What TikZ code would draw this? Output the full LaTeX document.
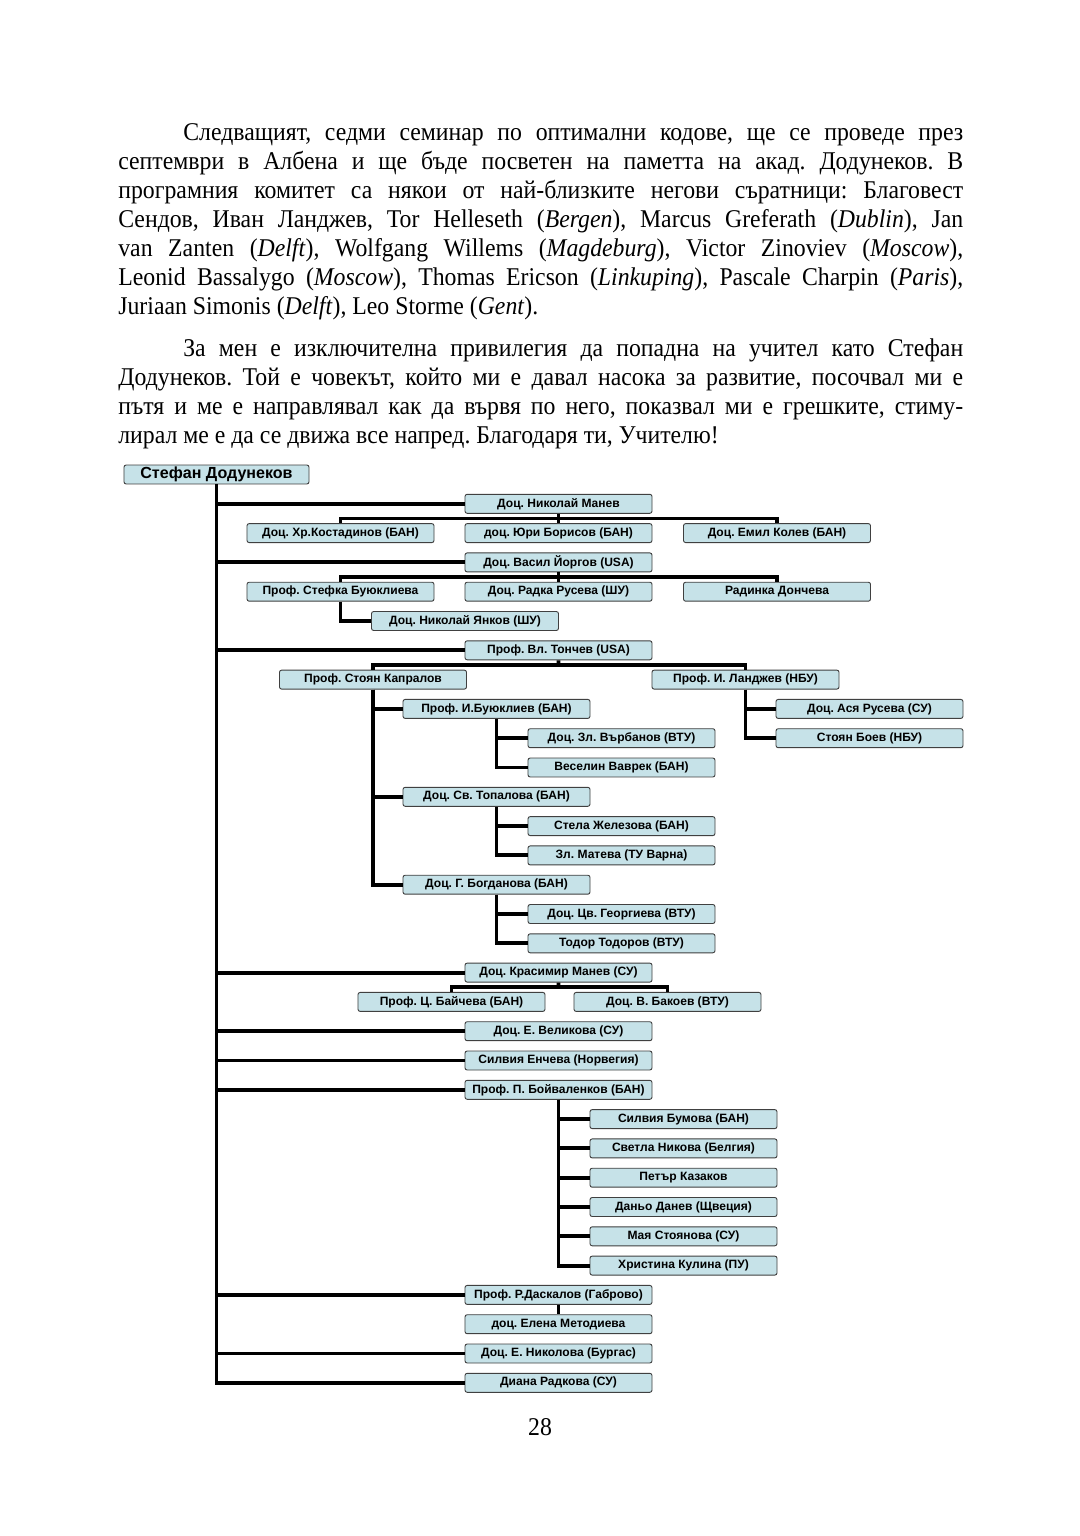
\documentclass[tikz,border=0pt]{standalone}
\usepackage{fontspec}
\setmainfont{Liberation Serif}[FakeStretch=0.93]
\newfontfamily\boxfont{Liberation Sans}
\usepackage{tikz}
\usetikzlibrary{positioning,calc}
\definecolor{boxfill}{RGB}{198,226,232}
\frenchspacing

\begin{document}
\begin{tikzpicture}[
    x=0.548pt, y=-0.548pt,
    box/.style={rectangle, rounded corners=1.2pt, fill=boxfill, draw=black!75,
                line width=0.5pt, minimum width=102.5pt, minimum height=10.4pt,
                inner sep=0pt, font=\boxfont\bfseries\fontsize{6.6}{7}\selectfont},
    rootbox/.style={box, minimum width=101.4pt,
                    font=\boxfont\bfseries\fontsize{8.8}{9}\selectfont},
    link/.style={line width=2.1pt},
    para/.style={anchor=north west, inner sep=0pt, text width=463pt, align=justify,
                 font=\fontsize{14}{15.9}\selectfont},
  ]
  \fill[white] (0,0) rectangle (1080,1536);
  \useasboundingbox (0,0) rectangle (1080,1536);

  % text above the tree
  \node[para] (para1) at (118,123)
    {\hspace*{35.6pt}Следващият, седми семинар по оптимални кодове, ще се проведе през\linebreak
     септември в Албена и ще бъде посветен на паметта на акад. Додунеков. В\linebreak
     програмния комитет са някои от най-близките негови съратници: Благовест\linebreak
     Сендов, Иван Ланджев, Tor Helleseth (\textit{Bergen}), Marcus Greferath (\textit{Dublin}), Jan\linebreak
     van Zanten (\textit{Delft}), Wolfgang Willems (\textit{Magdeburg}), Victor Zinoviev (\textit{Moscow}),\linebreak
     Leonid Bassalygo (\textit{Moscow}), Thomas Ericson (\textit{Linkuping}), Pascale Charpin (\textit{Paris}),\linebreak
     Juriaan Simonis (\textit{Delft}), Leo Storme (\textit{Gent}).};
  \node[para] (para2) at (118,338)
    {\hspace*{35.6pt}За мен е изключителна привилегия да попадна на учител като Стефан\linebreak
     Додунеков. Той е човекът, който ми е давал насока за развитие, посочвал ми е\linebreak
     пътя и ме е направлявал как да вървя по него, показвал ми е грешките, стиму-\linebreak
     лирал ме е да се движа все напред. Благодаря ти, Учителю!};

  % teacher
  \node[rootbox] (root) at (216.5,474.5) {Стефан Додунеков};

  % direct students (main column)
  \foreach \nm/\txt/\yy in {manev/Доц. Николай Манев/503.8,
      yorgov/Доц. Васил Йоргов (USA)/562.4, tonchev/Проф. Вл. Тончев (USA)/650.3,
      krmanev/Доц. Красимир Манев (СУ)/972.6, velikova/Доц. Е. Великова (СУ)/1031.2,
      encheva/Силвия Енчева (Норвегия)/1060.5, boyvalenkov/Проф. П. Бойваленков (БАН)/1089.8,
      daskalov/Проф. Р.Даскалов (Габрово)/1294.9, metodieva/доц. Елена Методиева/1324.2,
      nikolova/Доц. Е. Николова (Бургас)/1353.5, radkova/Диана Радкова (СУ)/1382.8}
    \node[box] (\nm) at (558.5,\yy) {\txt};

  % second generation
  \node[box] (kostadinov) at (340.5,533.1) {Доц. Хр.Костадинов (БАН)};
  \node[box] (borisov) at (558.5,533.1) {доц. Юри Борисов (БАН)};
  \node[box] (kolev) at (777,533.1) {Доц. Емил Колев (БАН)};
  \node[box] (sbuyuklieva) at (340.5,591.7) {Проф. Стефка Буюклиева};
  \node[box] (rruseva) at (558.5,591.7) {Доц. Радка Русева (ШУ)};
  \node[box] (doncheva) at (777,591.7) {Радинка Дончева};
  \node[box] (yankov) at (465,621) {Доц. Николай Янков (ШУ)};
  \node[box] (kapralov) at (373,679.6) {Проф. Стоян Капралов};
  \node[box] (landzhev) at (745.5,679.6) {Проф. И. Ланджев (НБУ)};
  \node[box] (ibuyukliev) at (496.5,708.9) {Проф. И.Буюклиев (БАН)};
  \node[box] (aruseva) at (869.5,708.9) {Доц. Ася Русева (СУ)};
  \node[box] (boev) at (869.5,738.2) {Стоян Боев (НБУ)};
  \node[box] (topalova) at (496.5,796.8) {Доц. Св. Топалова (БАН)};
  \node[box] (bogdanova) at (496.5,884.7) {Доц. Г. Богданова (БАН)};
  \node[box] (baycheva) at (451.5,1001.9) {Проф. Ц. Байчева (БАН)};
  \node[box] (bakoev) at (667.5,1001.9) {Доц. В. Бакоев (ВТУ)};

  % third generation
  \foreach \nm/\txt/\yy in {varbanov/Доц. Зл. Върбанов (ВТУ)/738.2,
      vavrek/Веселин Ваврек (БАН)/767.5, zhelezova/Стела Железова (БАН)/826.1,
      mateva/Зл. Матева (ТУ Варна)/855.4, georgieva/Доц. Цв. Георгиева (ВТУ)/914,
      todorov/Тодор Тодоров (ВТУ)/943.3}
    \node[box] (\nm) at (621.5,\yy) {\txt};
  \foreach \nm/\txt/\yy in {bumova/Силвия Бумова (БАН)/1119.1,
      nikova/Светла Никова (Белгия)/1148.4, kazakov/Петър Казаков/1177.7,
      danev/Даньо Данев (Щвеция)/1207, stoyanova/Мая Стоянова (СУ)/1236.3,
      kulina/Христина Кулина (ПУ)/1265.6}
    \node[box] (\nm) at (683.5,\yy) {\txt};

  % trunk and branches
  \foreach \c in {manev,yorgov,tonchev,krmanev,velikova,encheva,boyvalenkov,
                  daskalov,nikolova,radkova}
    \draw[link] (root.south) |- (\c.west);

  % bars under a box (children side by side)
  \draw[link] (kostadinov.north) |- ($(manev.south)!.5!(borisov.north)$) -| (kolev.north);
  \draw[link] (manev.south) -- (borisov.north);
  \draw[link] (sbuyuklieva.north) |- ($(yorgov.south)!.5!(rruseva.north)$) -| (doncheva.north);
  \draw[link] (yorgov.south) -- (rruseva.north);
  \draw[link] (sbuyuklieva.south) |- (yankov.west);
  \coordinate (tbar) at ($(tonchev.south)!.5!(tonchev.south |- kapralov.north)$);
  \draw[link] (kapralov.north) |- (tbar) -| (landzhev.north);
  \draw[link] (tonchev.south) -- (tbar);
  \coordinate (kbar) at ($(krmanev.south)!.5!(krmanev.south |- baycheva.north)$);
  \draw[link] (baycheva.north) |- (kbar) -| (bakoev.north);
  \draw[link] (krmanev.south) -- (kbar);
  \draw[link] (daskalov.south) -- (metodieva.north);

  % children listed below a box
  \foreach \c in {ibuyukliev,topalova,bogdanova}
    \draw[link] (kapralov.south) |- (\c.west);
  \foreach \c in {aruseva,boev}
    \draw[link] (landzhev.south) |- (\c.west);
  \foreach \c in {varbanov,vavrek}
    \draw[link] (ibuyukliev.south) |- (\c.west);
  \foreach \c in {zhelezova,mateva}
    \draw[link] (topalova.south) |- (\c.west);
  \foreach \c in {georgieva,todorov}
    \draw[link] (bogdanova.south) |- (\c.west);
  \foreach \c in {bumova,nikova,kazakov,danev,stoyanova,kulina}
    \draw[link] (boyvalenkov.south) |- (\c.west);

  \node[font=\fontsize{14}{16}\selectfont] (pagenum) at (540,1427) {28};
\end{tikzpicture}
\end{document}
